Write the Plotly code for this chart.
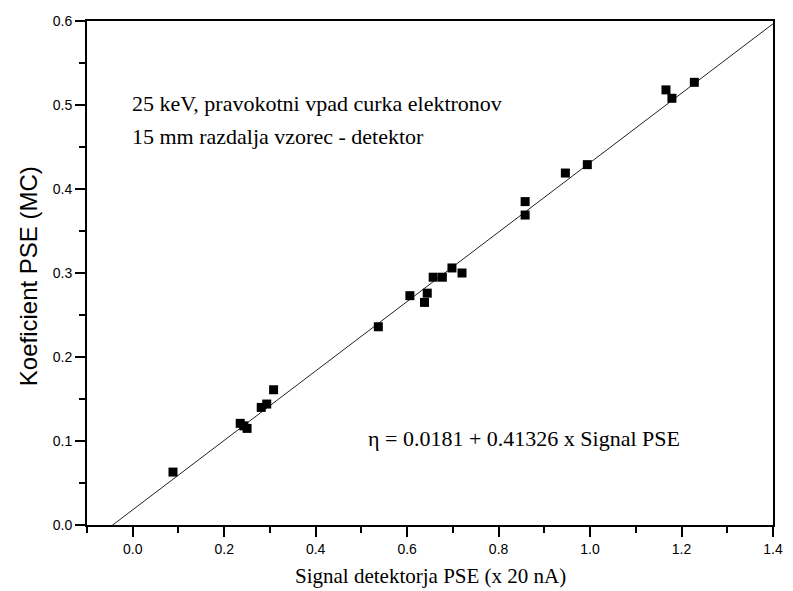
import plotly.graph_objects as go

# Data
signal_pse = [0.088, 0.235, 0.243, 0.250, 0.281, 0.293, 0.308, 0.537, 0.606, 0.638,
              0.644, 0.657, 0.677, 0.698, 0.720, 0.858, 0.858, 0.946, 0.994, 1.166,
              1.179, 1.228]
koef_pse = [0.063, 0.121, 0.118, 0.115, 0.140, 0.144, 0.161, 0.236, 0.273, 0.265,
            0.276, 0.295, 0.295, 0.306, 0.300, 0.385, 0.369, 0.419, 0.429, 0.518,
            0.508, 0.527]

fit_intercept = 0.0181
fit_slope = 0.41326
fit_x = [-0.1, 1.4]
fit_y = [fit_intercept + fit_slope * v for v in fit_x]

x_ticks = [0.0, 0.2, 0.4, 0.6, 0.8, 1.0, 1.2, 1.4]
x_ticklabels = ["0.0", "0.2", "0.4", "0.6", "0.8", "1.0", "1.2", "1.4"]
y_ticks = [0.0, 0.1, 0.2, 0.3, 0.4, 0.5, 0.6]
y_ticklabels = ["0.0", "0.1", "0.2", "0.3", "0.4", "0.5", "0.6"]

serif = "Liberation Serif, Times New Roman, serif"
sans = "Liberation Sans, Arial, sans-serif"

fig = go.Figure()
fig.add_trace(go.Scatter(x=fit_x, y=fit_y, mode="lines",
                         line=dict(color="#222222", width=1), showlegend=False,
                         hoverinfo="skip"))
fig.add_trace(go.Scatter(x=signal_pse, y=koef_pse, mode="markers",
                         marker=dict(symbol="square", size=9, color="black"),
                         showlegend=False))

axis_common = dict(showline=True, linecolor="black", linewidth=2, mirror=True,
                   ticks="outside", ticklen=10, tickwidth=1.5, tickcolor="black",
                   showgrid=False, zeroline=False,
                   tickfont=dict(family=sans, size=14, color="black"))

fig.update_xaxes(range=[-0.1, 1.4], tickvals=x_ticks, ticktext=x_ticklabels,
                 minor=dict(dtick=0.1, tick0=0, ticks="outside", ticklen=6,
                            tickwidth=1.5, tickcolor="black"),
                 **axis_common)
fig.update_yaxes(range=[0, 0.6], tickvals=y_ticks, ticktext=y_ticklabels,
                 minor=dict(dtick=0.05, tick0=0, ticks="outside", ticklen=6,
                            tickwidth=1.5, tickcolor="black"),
                 **axis_common)

annotations = [
    dict(text="25 keV, pravokotni vpad curka elektronov", x=0.062, y=0.837,
         xanchor="left", yanchor="middle", font=dict(family=serif, size=22, color="black")),
    dict(text="15 mm razdalja vzorec - detektor", x=0.062, y=0.770,
         xanchor="left", yanchor="middle", font=dict(family=serif, size=22, color="black")),
    dict(text="η = 0.0181 + 0.41326 x Signal PSE", x=0.406, y=0.171,
         xanchor="left", yanchor="middle", font=dict(family=serif, size=22, color="black")),
    dict(text="Koeficient PSE (MC)", x=-0.085, y=0.493, textangle=-90,
         xanchor="center", yanchor="middle", font=dict(family=sans, size=24, color="black")),
    dict(text="Signal detektorja PSE (x 20 nA)", x=0.5, y=-0.128,
         xanchor="center", yanchor="bottom", font=dict(family=serif, size=21, color="black")),
]
for a in annotations:
    a.update(xref="paper", yref="paper", showarrow=False)

fig.update_layout(width=793, height=591, margin=dict(l=87, r=10, t=21, b=66),
                  paper_bgcolor="white", plot_bgcolor="white",
                  annotations=annotations)

fig.write_html("out.html")
